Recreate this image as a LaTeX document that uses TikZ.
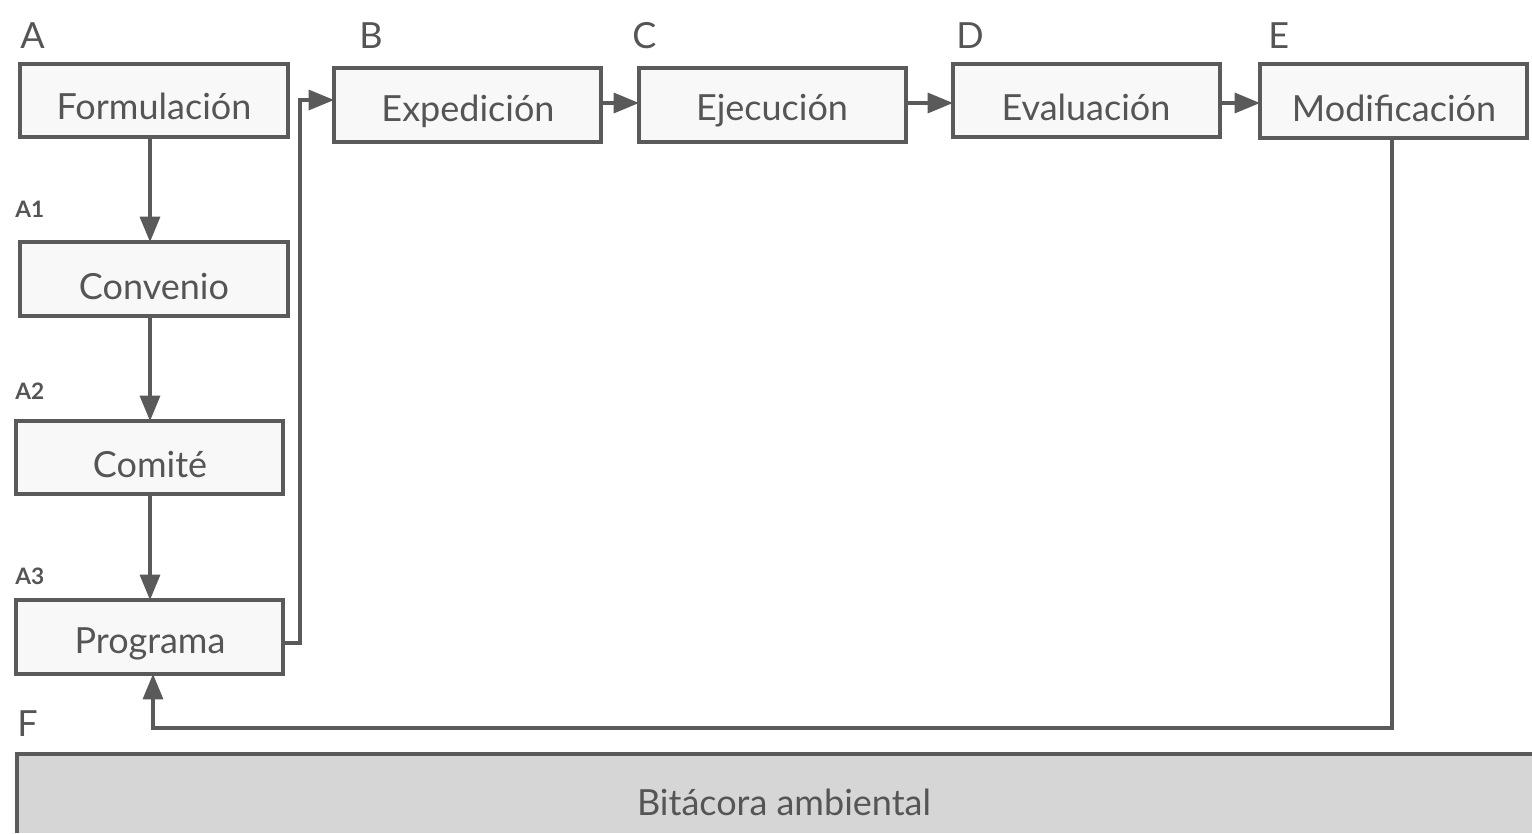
\documentclass[tikz,border=0pt]{standalone}
\usepackage{fontspec}
\setmainfont{Lato}
\usetikzlibrary{arrows.meta}
\definecolor{ln}{HTML}{5A5A5A}
\definecolor{bx}{HTML}{F8F8F8}
\definecolor{gb}{HTML}{D6D6D6}
\definecolor{tx}{HTML}{555555}
\tikzset{
  pbox/.style={draw=ln, line width=2.4pt, fill=bx},
  btxt/.style={text=tx, font=\fontsize{27}{30}\selectfont},
  lbl/.style={text=tx, font=\fontsize{27}{30}\selectfont, anchor=base west, inner sep=0pt},
  slbl/.style={text=tx, font=\bfseries\fontsize{17}{19}\selectfont, anchor=base west, inner sep=0pt},
  conn/.style={draw=ln, line width=2.4pt, -{Triangle[length=19pt,width=15pt]}},
}
\begin{document}
\begin{tikzpicture}[x=0.75pt,y=-0.75pt]
\useasboundingbox (0,0) rectangle (1532,833);
\fill[white] (0,0) rectangle (1532,833);
% boxes
\path[pbox] (20,64) rectangle (288,137);
\node[btxt] (form) at (154,106) {Formulación};
\path[pbox] (20,242) rectangle (288,316);
\node[btxt] (conv) at (154,287) {Convenio};
\path[pbox] (16,421) rectangle (283,494);
\node[btxt] (comi) at (150,465) {Comité};
\path[pbox] (16,600) rectangle (283,674);
\node[btxt] (prog) at (150,644) {Programa};
\path[pbox] (334,68) rectangle (601,142);
\node[btxt] (expe) at (468,111) {Expedición};
\path[pbox] (639,68) rectangle (906,142);
\node[btxt] (ejec) at (772,111) {Ejecución};
\path[pbox] (953,64) rectangle (1220,137);
\node[btxt] (eval) at (1086,107) {Evaluación};
\path[pbox] (1260,64) rectangle (1527,138);
\node[btxt] (modi) at (1394,108) {Modificación};
% bitacora
\fill[gb] (17,754) rectangle (1532,833);
\draw[ln, line width=2.4pt] (17,833) -- (17,754) -- (1532,754);
\node[btxt] (bita) at (784,802) {Bitácora ambiental};
% coordinates
\coordinate (fb) at (150,137);
\coordinate (ct) at (150,242);
\coordinate (cb) at (150,316);
\coordinate (mt) at (150,421);
\coordinate (mb) at (150,494);
\coordinate (pt) at (150,600);
\coordinate (pr) at (283,643);
\coordinate (el) at (334,100);
\coordinate (pb) at (153,674);
\coordinate (mob) at (1392,138);
\coordinate (xl) at (601,103);
\coordinate (cr) at (639,103);
\coordinate (jl) at (906,103);
\coordinate (dr) at (953,103);
\coordinate (vl) at (1220,103);
\coordinate (er) at (1260,103);
% connectors
\draw[conn] (fb) -- (ct);
\draw[conn] (cb) -- (mt);
\draw[conn] (mb) -- (pt);
\draw[conn] (pr) -- (300,643) -- (300,100) -- (el);
\draw[conn] (xl) -- (cr);
\draw[conn] (jl) -- (dr);
\draw[conn] (vl) -- (er);
\draw[conn] (mob) -- (1392,728) -- (153,728) -- (pb);
% labels
\node[lbl] (la) at (20,48) {A};
\node[lbl] (lb) at (359,48) {B};
\node[lbl] (lc) at (632,48) {C};
\node[lbl] (ld) at (956,48) {D};
\node[lbl] (le) at (1268,48) {E};
\node[slbl] (la1) at (15,217) {A1};
\node[slbl] (la2) at (15,399) {A2};
\node[slbl] (la3) at (15,584) {A3};
\node[lbl] (lf) at (17,736) {F};
\end{tikzpicture}
\end{document}
